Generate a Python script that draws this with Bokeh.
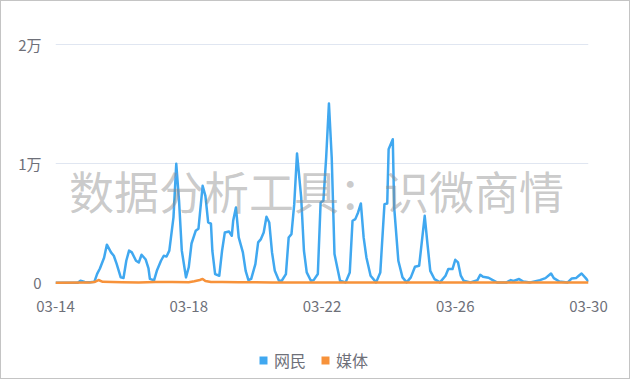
import pandas as pd
from bokeh.plotting import figure
from bokeh.layouts import column
from bokeh.models import (Range1d, FixedTicker, Legend, LegendItem, Label,
                          DatetimeTickFormatter)
from bokeh.embed import file_html
from bokeh.resources import INLINE

# ---------------- data ----------------
start_date = "2024-03-14"
# hours after 03-14 00:00 and counts for 网民
netizen_hours = [0, 16, 18, 21, 25, 28, 30, 32, 35, 37, 40, 42, 44, 47, 49, 51, 53, 55, 58, 60,
                 62, 65, 67, 68, 71, 73, 76, 78, 80, 82, 85, 87, 89, 91, 94, 96, 98, 101, 103, 106,
                 108, 110, 112, 113, 115, 118, 120, 122, 125, 127, 128, 130, 132, 135, 137, 139, 141, 144, 146, 148,
                 150, 152, 154, 156, 158, 161, 163, 166, 168, 170, 172, 174, 177, 179, 181, 184, 186, 189, 191, 193,
                 195, 197, 199, 201, 203, 205, 209, 212, 214, 216, 218, 220, 222, 224, 227, 231, 234, 237, 239, 240,
                 243, 244, 247, 250, 253, 256, 259, 262, 266, 268, 270, 273, 277, 281, 283, 286, 288, 290, 292, 294,
                 299, 304, 306, 308, 312, 315, 318, 325, 328, 330, 334, 337, 342, 349, 353, 357, 359, 363, 369, 372,
                 375, 377, 379, 382, 384]
netizen_values = [0, 0, 170, 60, 50, 80, 750, 1200, 2100, 3200, 2550, 2270, 1600, 450, 400, 1850, 2700, 2550, 1850, 1700,
                  2350, 1950, 1200, 330, 200, 1000, 1850, 2270, 2200, 2700, 5500, 10000, 6900, 2700, 450, 1300, 3300, 4370, 4540, 8150,
                  7300, 5070, 4960, 2690, 730, 590, 2690, 4230, 4310, 3950, 5210, 6330, 3810, 2550, 1000, 220, 330, 1570, 3390, 3670,
                  4230, 5550, 5070, 2550, 1000, 170, 170, 730, 3810, 4090, 6610, 10870, 7170, 2690, 870, 170, 220, 730, 6750, 6890,
                  10530, 15070, 10530, 2410, 1290, 170, 30, 870, 5210, 5350, 5910, 6670, 3810, 2130, 590, 30, 870, 6610, 6670, 11230,
                  12070, 6330, 1850, 450, 30, 450, 1340, 1430, 5630, 3250, 1000, 310, 30, 590, 1150, 1150, 1930, 1710, 590, 170,
                  30, 220, 670, 500, 420, 220, 30, 30, 220, 150, 310, 100, 30, 220, 390, 780, 390, 100, 30, 360,
                  390, 590, 780, 390, 100]
# hours after 03-14 00:00 and counts for 媒体
media_hours = [0, 24, 28, 31, 34, 48, 60, 72, 84, 96, 100, 104, 106, 108, 112, 120, 132, 144, 156, 168,
               192, 216, 240, 264, 288, 312, 336, 360, 384]
media_values = [0, 10, 60, 230, 80, 40, 30, 60, 70, 40, 120, 230, 320, 150, 60, 70, 50, 40, 30, 30,
                20, 20, 15, 15, 10, 10, 10, 10, 10]
x_tick_days = [0, 4, 8, 12, 16]
y_ticks = [0, 10000, 20000]
y_tick_labels = ["0", "1万", "2万"]
series_names = ["网民", "媒体"]
series_colors = ["#40a8f0", "#f7923a"]
watermark = "数据分析工具：识微商情"

# ---------------- build ----------------
t0 = pd.Timestamp(start_date)
nx = [t0 + pd.Timedelta(hours=h) for h in netizen_hours]
mx = [t0 + pd.Timedelta(hours=h) for h in media_hours]

FONT = "Noto Sans CJK SC"
LABEL_COLOR = "#6e7079"

p = figure(width=628, height=345, x_axis_type="datetime", output_backend="svg",
           toolbar_location=None, min_border_left=54, min_border_right=41,
           min_border_top=41, min_border_bottom=59)
p.x_range = Range1d(t0, t0 + pd.Timedelta(days=16))
p.y_range = Range1d(-400, 20200)
p.outline_line_color = None
p.background_fill_color = "white"
p.border_fill_color = "white"

tick_ms = [(t0 + pd.Timedelta(days=d)).value / 1e6 for d in x_tick_days]
p.xaxis.ticker = FixedTicker(ticks=tick_ms)
p.xaxis.formatter = DatetimeTickFormatter(days="%m-%d", months="%m-%d", hours="%m-%d",
                                          years="%m-%d")
p.yaxis.ticker = FixedTicker(ticks=y_ticks)
p.yaxis.major_label_overrides = {t: l for t, l in zip(y_ticks, y_tick_labels)}

for ax in (p.xaxis, p.yaxis):
    ax.axis_line_color = None
    ax.major_tick_line_color = None
    ax.minor_tick_line_color = None
    ax.major_label_text_font = FONT
    ax.major_label_text_font_size = "15px"
    ax.major_label_text_color = LABEL_COLOR
p.xaxis.major_label_standoff = 7
p.yaxis.major_label_standoff = 8

p.xgrid.visible = False
p.ygrid.ticker = FixedTicker(ticks=[10000, 20000])
p.ygrid.grid_line_color = "#e0e6f1"
p.ygrid.grid_line_width = 1

p.line(nx, netizen_values, line_color=series_colors[0], line_width=2.5, line_join="round")
p.line(mx, media_values, line_color=series_colors[1], line_width=2.5, line_join="round")

wm = Label(x=t0 + pd.Timedelta(hours=188), y=7730, text=watermark, text_align="center",
           text_baseline="middle", text_font=FONT, text_font_size="45px",
           text_color="#8a8a8a", text_alpha=0.45)
p.add_layout(wm)

# ---------------- legend strip ----------------
nan = float("nan")
lp = figure(width=628, height=32, output_backend="svg", toolbar_location=None,
            x_axis_location=None, y_axis_location=None, min_border=0)
lp.outline_line_color = None
lp.xgrid.visible = False
lp.ygrid.visible = False
r1 = lp.scatter(x=[nan], y=[nan], marker="square", fill_color=series_colors[0], line_color=None)
r2 = lp.scatter(x=[nan], y=[nan], marker="square", fill_color=series_colors[1], line_color=None)
legend = Legend(items=[LegendItem(label=series_names[0], renderers=[r1]),
                       LegendItem(label=series_names[1], renderers=[r2])],
                orientation="horizontal", location=(198, 6),
                glyph_width=20, glyph_height=20, label_standoff=1, spacing=9,
                padding=0, margin=0, border_line_color=None, background_fill_alpha=0,
                label_text_font=FONT, label_text_font_size="16px",
                label_text_color=LABEL_COLOR, label_height=20)
lp.add_layout(legend, "center")

layout = column(p, lp, spacing=0)
layout.styles = {"border": "1px solid #c4c4c4"}

open("out.html", "w").write(file_html(layout, INLINE))
